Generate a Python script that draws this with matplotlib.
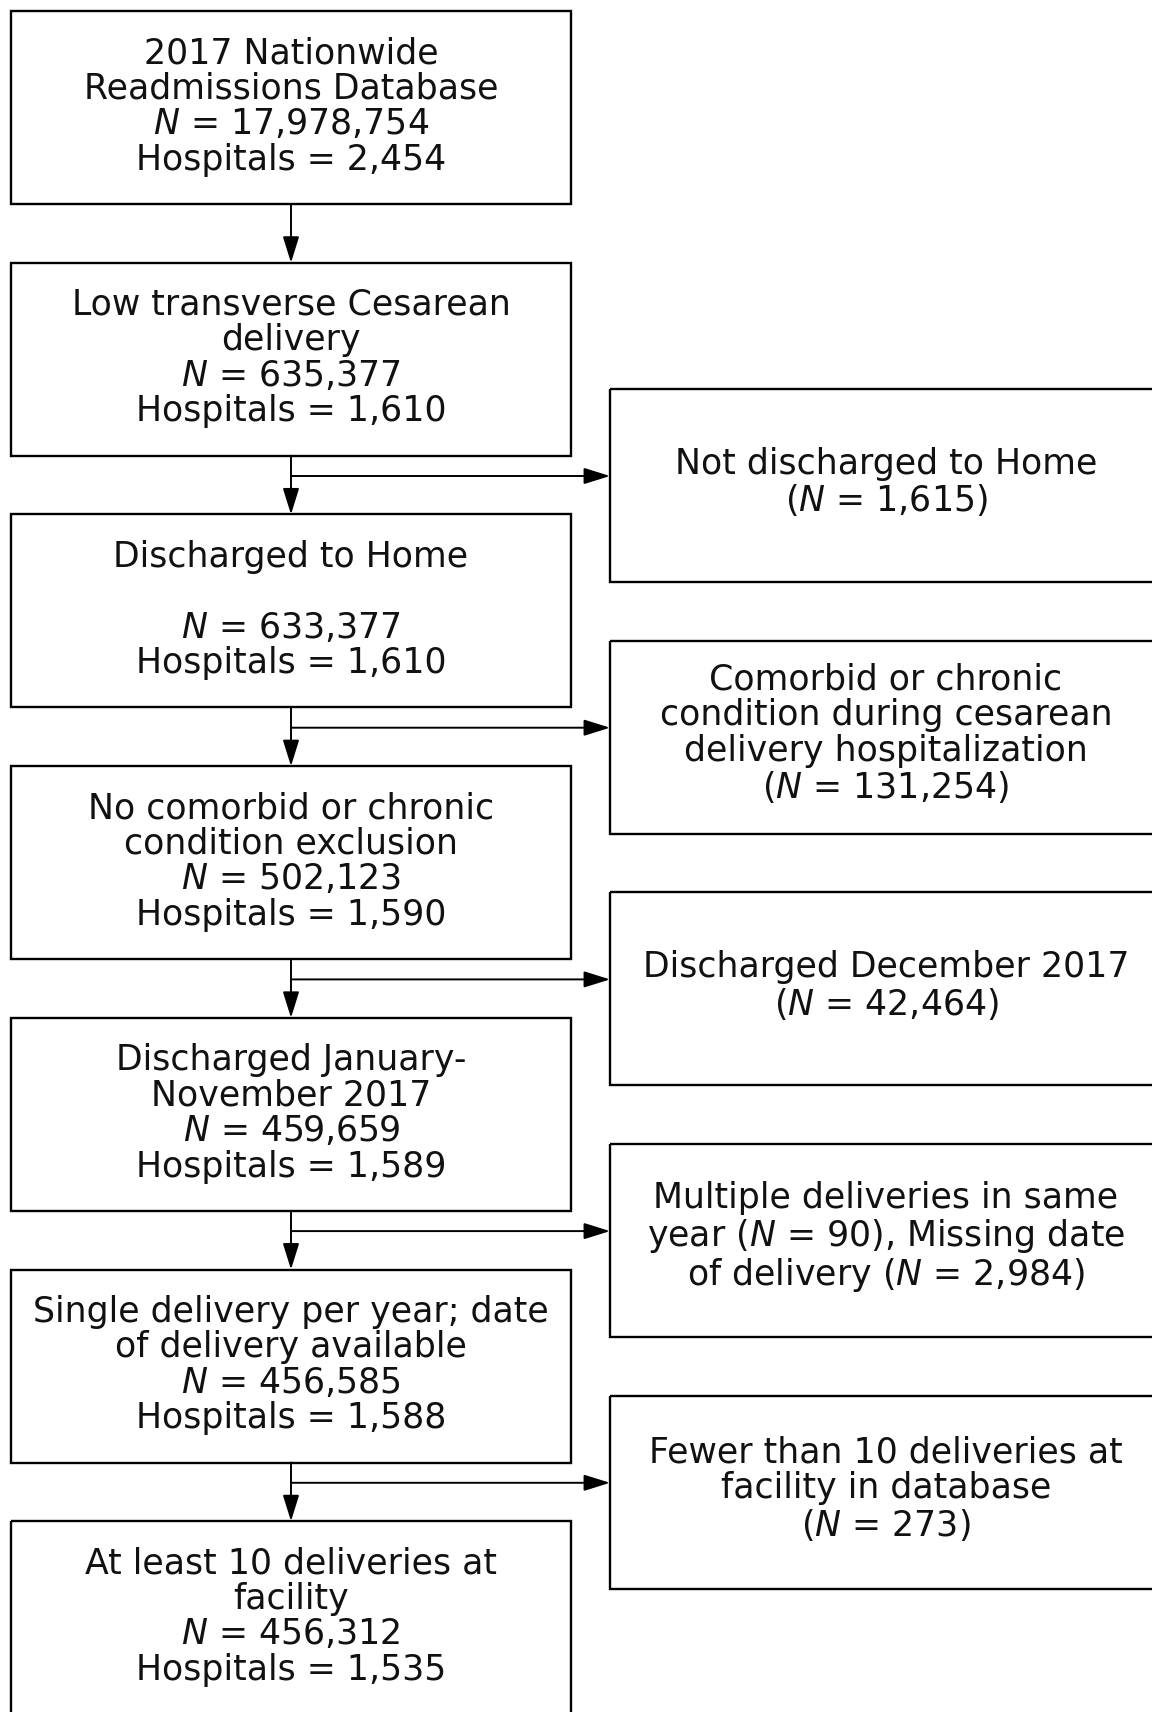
import matplotlib
matplotlib.use("Agg")
import matplotlib.pyplot as plt
from matplotlib.patches import Rectangle

plt.rcParams['mathtext.fontset'] = 'dejavusans'
plt.rcParams['font.family'] = ['DejaVu Sans']

N = r"$\mathit{N}$"

# Main flow (left column) boxes
main_titles = [
    "2017 Nationwide\nReadmissions Database",
    "Low transverse Cesarean\ndelivery",
    "Discharged to Home\n",
    "No comorbid or chronic\ncondition exclusion",
    "Discharged January-\nNovember 2017",
    "Single delivery per year; date\nof delivery available",
    "At least 10 deliveries at\nfacility",
]
main_n = ["17,978,754", "635,377", "633,377", "502,123", "459,659", "456,585", "456,312"]
main_hospitals = ["2,454", "1,610", "1,610", "1,590", "1,589", "1,588", "1,535"]

# Exclusion (right column) boxes
excl_labels = [
    "Not discharged to Home\n(" + N + " = 1,615)",
    "Comorbid or chronic\ncondition during cesarean\ndelivery hospitalization\n(" + N + " = 131,254)",
    "Discharged December 2017\n(" + N + " = 42,464)",
    "Multiple deliveries in same\nyear (" + N + " = 90), Missing date\nof delivery (" + N + " = 2,984)",
    "Fewer than 10 deliveries at\nfacility in database\n(" + N + " = 273)",
]

W, H = 1152, 1712
fig = plt.figure(figsize=(W / 100, H / 100), dpi=100)
ax = fig.add_axes([0, 0, 1, 1])
ax.set_xlim(0, W)
ax.set_ylim(H, 0)
ax.axis('off')

step = 251.7
box_h = 193
lx0, lx1 = 11, 571
rx0, rx1 = 610, 1164
lcx = (lx0 + lx1) / 2
rcx = 886
fs = 25
ls = 1.055

arrow_kw = dict(arrowstyle='-|>,head_length=0.8,head_width=0.25',
                mutation_scale=20, lw=1.4, color='black',
                shrinkA=0, shrinkB=0)

for i, (t, n, h) in enumerate(zip(main_titles, main_n, main_hospitals)):
    top = 11 + i * step
    ax.add_patch(Rectangle((lx0, top), lx1 - lx0, box_h, fill=False,
                           edgecolor='black', lw=1.7))
    label = t + "\n" + N + " = " + n + "\nHospitals = " + h
    ax.text(lcx, top + box_h / 2 - 1, label, ha='center', va='center',
            fontsize=fs, linespacing=ls, color='#111111')
    if i > 0:
        prev_bottom = 11 + (i - 1) * step + box_h
        ax.annotate('', xy=(lcx, top), xytext=(lcx, prev_bottom),
                    arrowprops=arrow_kw)

for j, lab in enumerate(excl_labels):
    top = 389 + j * step
    ax.add_patch(Rectangle((rx0, top), rx1 - rx0, box_h, fill=False,
                           edgecolor='black', lw=1.7))
    ax.text(rcx, top + box_h / 2 - 3, lab, ha='center', va='center',
            fontsize=fs, linespacing=ls, color='#111111')
    ay = 476 + j * step
    ax.annotate('', xy=(rx0, ay), xytext=(lcx, ay), arrowprops=arrow_kw)

fig.savefig("out.png", dpi=100, facecolor='white')
